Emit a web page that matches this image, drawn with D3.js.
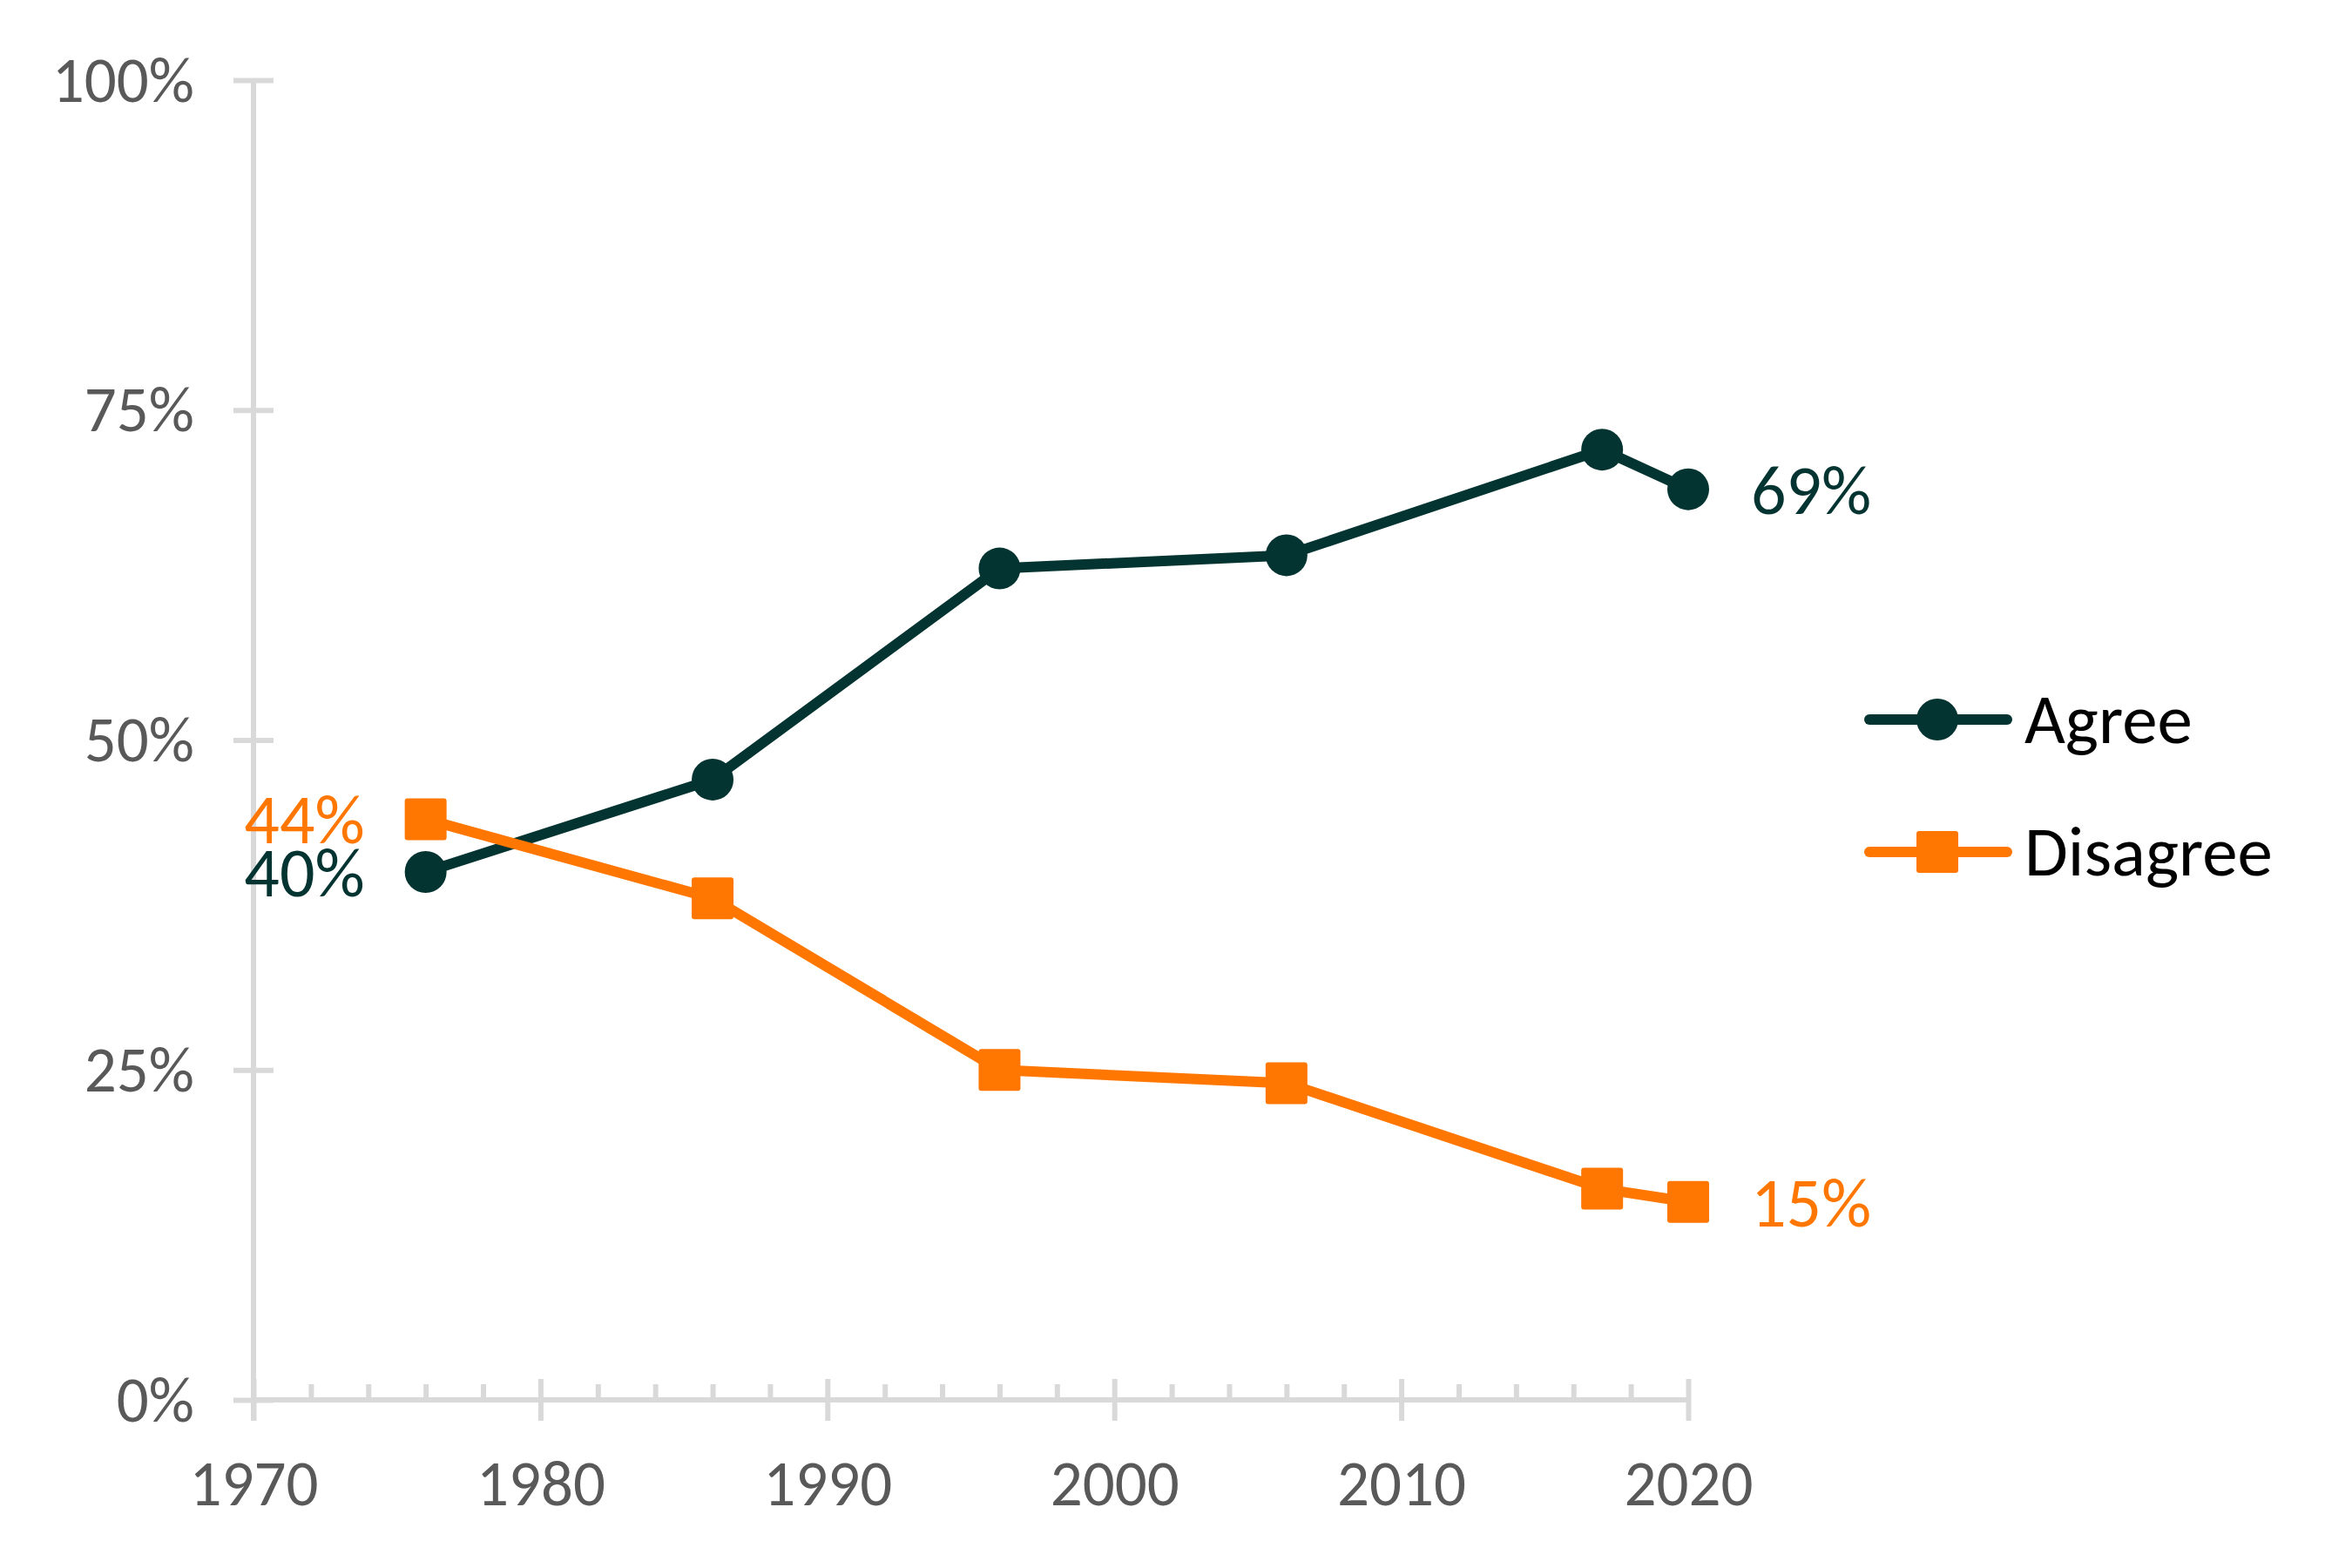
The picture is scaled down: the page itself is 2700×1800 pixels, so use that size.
<!DOCTYPE html>
<html>
<head>
<meta charset="utf-8">
<script src="https://cdn.jsdelivr.net/npm/d3@7"></script>
<style>
  body { margin: 0; background: #fff; }
  svg { display: block; font-family: Carlito, Calibri, Lato, sans-serif; }
</style>
</head>
<body>
<div id="vis"></div>
<script>
// chart size
const FRAME_WIDTH = 2700;
const FRAME_HEIGHT = 1800;
const FONT = "Carlito, Calibri, Lato, sans-serif";

// data
const years = [1976, 1986, 1996, 2006, 2017, 2020];
const agree = [0.40, 0.47, 0.63, 0.64, 0.72, 0.69];
const disagree = [0.44, 0.38, 0.25, 0.24, 0.16, 0.15];
const seriesNames = ["Agree", "Disagree"];
const yTicks = [0, 0.25, 0.5, 0.75, 1];
const xTicks = [1970, 1980, 1990, 2000, 2010, 2020];
const xMinorTicks = d3.range(1972, 2020, 2).filter(d => d % 10 !== 0);

const TEAL = "#033431";
const ORANGE = "#FF7700";
const AXIS_GREY = "#D9D9D9";
const TEXT_GREY = "#595959";

const FRAME = d3.select("#vis")
  .append("svg")
    .attr("width", FRAME_WIDTH)
    .attr("height", FRAME_HEIGHT);

// scales
const X_SCALE = d3.scaleLinear()
  .domain([1970, 2020])
  .range([291, 1938]);

const Y_SCALE = d3.scaleLinear()
  .domain([0, 1])
  .range([1607, 92]);

// y axis, ticks cross the line
const yAxis = FRAME.append("g")
  .attr("transform", "translate(" + X_SCALE(1970) + ",0)")
  .call(d3.axisLeft(Y_SCALE)
    .tickValues(yTicks)
    .tickSizeOuter(0)
    .tickFormat(d3.format(".0%")))
  .attr("font-family", FONT)
  .attr("font-size", 73);

yAxis.select(".domain")
  .attr("stroke", AXIS_GREY)
  .attr("stroke-width", 6)
  .attr("d", "M0," + Y_SCALE(1) + "V" + (Y_SCALE(0) + 24));
yAxis.selectAll(".tick line")
  .attr("x1", -23).attr("x2", 23)
  .attr("stroke", AXIS_GREY)
  .attr("stroke-width", 6);
yAxis.selectAll(".tick text")
  .attr("x", -68)
  .attr("dy", "0.33em")
  .attr("fill", TEXT_GREY);

// x axis minor ticks (inside, upward)
const xMinor = FRAME.append("g")
  .attr("transform", "translate(0," + Y_SCALE(0) + ")")
  .call(d3.axisBottom(X_SCALE)
    .tickValues(xMinorTicks)
    .tickSize(-18)
    .tickFormat(""));
xMinor.select(".domain").remove();
xMinor.selectAll(".tick line")
  .attr("stroke", AXIS_GREY)
  .attr("stroke-width", 6);

// x axis major ticks, crossing
const xAxis = FRAME.append("g")
  .attr("transform", "translate(0," + Y_SCALE(0) + ")")
  .call(d3.axisBottom(X_SCALE)
    .tickValues(xTicks)
    .tickSizeOuter(0)
    .tickFormat(d3.format("d")))
  .attr("font-family", FONT)
  .attr("font-size", 73);

xAxis.select(".domain")
  .attr("stroke", AXIS_GREY)
  .attr("stroke-width", 6)
  .attr("d", "M" + X_SCALE(1970) + ",0H" + X_SCALE(2020));
xAxis.selectAll(".tick line")
  .attr("y1", -24).attr("y2", 24)
  .attr("stroke", AXIS_GREY)
  .attr("stroke-width", 6);
xAxis.selectAll(".tick text")
  .attr("y", 121)
  .attr("dy", 0)
  .attr("fill", TEXT_GREY);

// lines
const line = d3.line()
  .x((d, i) => X_SCALE(years[i]))
  .y(d => Y_SCALE(d));

const series = [
  { name: seriesNames[0], values: agree, color: TEAL, shape: "circle" },
  { name: seriesNames[1], values: disagree, color: ORANGE, shape: "square" }
];

series.forEach(s => {
  FRAME.append("path")
    .datum(s.values)
    .attr("fill", "none")
    .attr("stroke", s.color)
    .attr("stroke-width", 12)
    .attr("stroke-linejoin", "round")
    .attr("d", line);
});

// markers
function drawMarker(g, shape, cx, cy, color) {
  if (shape === "circle") {
    g.append("circle")
      .attr("cx", cx).attr("cy", cy)
      .attr("r", 24)
      .attr("fill", color);
  } else {
    g.append("rect")
      .attr("x", cx - 24).attr("y", cy - 24)
      .attr("width", 48).attr("height", 48)
      .attr("rx", 3)
      .attr("fill", color);
  }
}

series.forEach(s => {
  const g = FRAME.append("g");
  s.values.forEach((v, i) => {
    drawMarker(g, s.shape, X_SCALE(years[i]), Y_SCALE(v), s.color);
  });
});

// data labels at first and last points
const fmt = d3.format(".0%");
const last = years.length - 1;
series.forEach(s => {
  FRAME.append("text")
    .attr("x", X_SCALE(years[0]) - 70)
    .attr("y", Y_SCALE(s.values[0]) + 28)
    .attr("text-anchor", "end")
    .attr("font-size", 80)
    .attr("fill", s.color)
    .text(fmt(s.values[0]));
  FRAME.append("text")
    .attr("x", X_SCALE(years[last]) + 72)
    .attr("y", Y_SCALE(s.values[last]) + 28)
    .attr("text-anchor", "start")
    .attr("font-size", 80)
    .attr("fill", s.color)
    .text(fmt(s.values[last]));
});

// legend
const legendY = [826, 978];
series.forEach((s, i) => {
  const g = FRAME.append("g");
  g.append("line")
    .attr("x1", 2146).attr("x2", 2304)
    .attr("y1", legendY[i]).attr("y2", legendY[i])
    .attr("stroke", s.color)
    .attr("stroke-width", 12)
    .attr("stroke-linecap", "round");
  drawMarker(g, s.shape, 2224, legendY[i], s.color);
  g.append("text")
    .attr("x", 2324)
    .attr("y", legendY[i] + 27)
    .attr("font-size", 81)
    .attr("fill", "#000")
    .text(s.name);
});
</script>
</body>
</html>
